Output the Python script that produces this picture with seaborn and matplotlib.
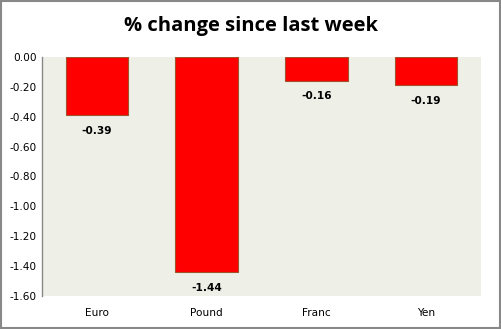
import matplotlib
matplotlib.use("Agg")
import matplotlib.pyplot as plt
import seaborn as sns
import pandas as pd
from matplotlib.patches import Rectangle

categories = ["Euro", "Pound", "Franc", "Yen"]
values = [-0.39, -1.44, -0.16, -0.19]
yticks = [0.0, -0.2, -0.4, -0.6, -0.8, -1.0, -1.2, -1.4, -1.6]

sns.set_theme(style="white", rc={"text.color": "black", "xtick.color": "black",
                                 "ytick.color": "black"})
plt.rcParams['font.family'] = ['DejaVu Sans']

df = pd.DataFrame({"cat": categories, "val": values})

fig = plt.figure(figsize=(5.02, 3.29), dpi=100)
ax = fig.add_axes([42/502, 1 - 296/329, (481-42)/502, (296-57)/329])
sns.barplot(data=df, x="cat", y="val", ax=ax, color="#FF0000", width=0.57,
            edgecolor="#A0522D", linewidth=0.8, saturation=1)
ax.set_facecolor("#EEF0E8")
ax.set_ylim(-1.6, 0)
ax.set_yticks(yticks)
ax.set_yticklabels([f"{v:.2f}" for v in yticks], fontsize=7.6)
ax.set_xlabel("")
ax.set_ylabel("")
ax.tick_params(axis="x", length=0, labelsize=7.6, pad=9)
ax.tick_params(axis="y", length=0, pad=4)
for s in ["top", "right", "bottom"]:
    ax.spines[s].set_visible(False)
ax.spines["left"].set_color("#888888")
ax.spines["left"].set_linewidth(1)
for i, v in enumerate(values):
    ax.annotate(f"{v:.2f}", (i, v), xytext=(0, -7.5), textcoords="offset points",
                ha="center", va="top", fontsize=7.6, fontweight="bold", color="black")
fig.text(0.5, 1 - 26/329, "% change since last week", ha="center", va="center",
         fontsize=14.5, fontweight="bold", color="black",
         family=["Open Sans", "DejaVu Sans"])
fig.patches.append(Rectangle((0.001, 0.002), 0.996, 0.995, transform=fig.transFigure,
                             fill=False, edgecolor="#888888", linewidth=1.5))
fig.savefig("out.png", dpi=100)
